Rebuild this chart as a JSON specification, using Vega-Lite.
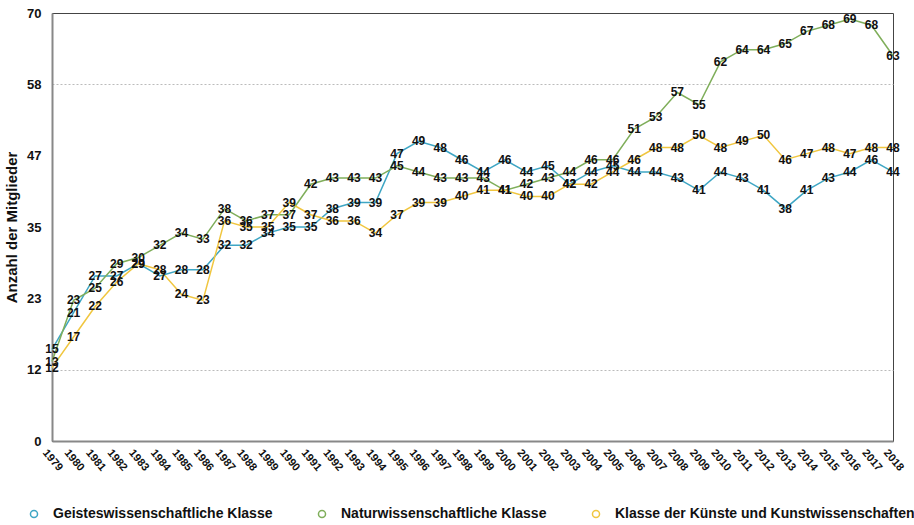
{
  "$schema": "https://vega.github.io/schema/vega-lite/v6.json",
  "width": 841,
  "height": 428,
  "autosize": {"type": "none"},
  "padding": {"left": 52, "top": 13, "right": 21, "bottom": 84},
  "config": {"font": "Liberation Sans", "view": {"stroke": "#444", "strokeWidth": 1}},
  "data": {"values": [
    {"Jahr": 1979, "G": 15, "N": 13, "K": 12},
    {"Jahr": 1980, "G": 21, "N": 23, "K": 17},
    {"Jahr": 1981, "G": 27, "N": 25, "K": 22},
    {"Jahr": 1982, "G": 27, "N": 29, "K": 26},
    {"Jahr": 1983, "G": 29, "N": 30, "K": 29},
    {"Jahr": 1984, "G": 27, "N": 32, "K": 28},
    {"Jahr": 1985, "G": 28, "N": 34, "K": 24},
    {"Jahr": 1986, "G": 28, "N": 33, "K": 23},
    {"Jahr": 1987, "G": 32, "N": 38, "K": 36},
    {"Jahr": 1988, "G": 32, "N": 36, "K": 35},
    {"Jahr": 1989, "G": 34, "N": 37, "K": 35},
    {"Jahr": 1990, "G": 35, "N": 37, "K": 39},
    {"Jahr": 1991, "G": 35, "N": 42, "K": 37},
    {"Jahr": 1992, "G": 38, "N": 43, "K": 36},
    {"Jahr": 1993, "G": 39, "N": 43, "K": 36},
    {"Jahr": 1994, "G": 39, "N": 43, "K": 34},
    {"Jahr": 1995, "G": 47, "N": 45, "K": 37},
    {"Jahr": 1996, "G": 49, "N": 44, "K": 39},
    {"Jahr": 1997, "G": 48, "N": 43, "K": 39},
    {"Jahr": 1998, "G": 46, "N": 43, "K": 40},
    {"Jahr": 1999, "G": 44, "N": 43, "K": 41},
    {"Jahr": 2000, "G": 46, "N": 41, "K": 41},
    {"Jahr": 2001, "G": 44, "N": 42, "K": 40},
    {"Jahr": 2002, "G": 45, "N": 43, "K": 40},
    {"Jahr": 2003, "G": 42, "N": 44, "K": 42},
    {"Jahr": 2004, "G": 44, "N": 46, "K": 42},
    {"Jahr": 2005, "G": 45, "N": 46, "K": 44},
    {"Jahr": 2006, "G": 44, "N": 51, "K": 46},
    {"Jahr": 2007, "G": 44, "N": 53, "K": 48},
    {"Jahr": 2008, "G": 43, "N": 57, "K": 48},
    {"Jahr": 2009, "G": 41, "N": 55, "K": 50},
    {"Jahr": 2010, "G": 44, "N": 62, "K": 48},
    {"Jahr": 2011, "G": 43, "N": 64, "K": 49},
    {"Jahr": 2012, "G": 41, "N": 64, "K": 50},
    {"Jahr": 2013, "G": 38, "N": 65, "K": 46},
    {"Jahr": 2014, "G": 41, "N": 67, "K": 47},
    {"Jahr": 2015, "G": 43, "N": 68, "K": 48},
    {"Jahr": 2016, "G": 44, "N": 69, "K": 47},
    {"Jahr": 2017, "G": 46, "N": 68, "K": 48},
    {"Jahr": 2018, "G": 44, "N": 63, "K": 48}
  ]},
  "transform": [
    {"fold": ["G", "N", "K"], "as": ["Key", "Anzahl"]},
    {"lookup": "Key", "from": {"data": {"values": [
      {"Key": "G", "Klasse": "Geisteswissenschaftliche Klasse"},
      {"Key": "N", "Klasse": "Naturwissenschaftliche Klasse"},
      {"Key": "K", "Klasse": "Klasse der Künste und Kunstwissenschaften"}
    ]}, "key": "Key", "fields": ["Klasse"]}}
  ],
  "encoding": {
    "x": {
      "field": "Jahr", "type": "ordinal",
      "scale": {"type": "point", "padding": 0},
      "axis": {
        "title": null, "labelAngle": 50, "labelAlign": "center", "labelBaseline": "middle",
        "labelPadding": 19, "ticks": false, "labelFontWeight": "bold", "labelFontSize": 11,
        "labelColor": "#111", "domainColor": "#888", "domainWidth": 2, "grid": false
      }
    },
    "y": {
      "field": "Anzahl", "type": "quantitative",
      "scale": {"domain": [0, 70], "nice": false},
      "axis": {
        "title": "Anzahl der Mitglieder", "titleFontSize": 15, "titleFontWeight": "bold",
        "titleColor": "#111", "titlePadding": 7,
        "values": [0, 11.6667, 23.3333, 35, 46.6667, 58.3333, 70],
        "labelExpr": "round(datum.value)",
        "labelFontSize": 13, "labelFontWeight": "bold", "labelColor": "#111", "labelPadding": 11,
        "ticks": false, "domainColor": "#888", "domainWidth": 2,
        "grid": true, "gridDash": [2, 2], "gridColor": "#bbb",
        "gridOpacity": {"condition": {"test": "(datum.value > 10 && datum.value < 13) || (datum.value > 57 && datum.value < 59)", "value": 1}, "value": 0}
      }
    },
    "color": {
      "field": "Klasse", "type": "nominal",
      "scale": {
        "domain": ["Geisteswissenschaftliche Klasse", "Naturwissenschaftliche Klasse", "Klasse der Künste und Kunstwissenschaften"],
        "range": ["#3ea6c4", "#7fae5a", "#f0c63f"]
      },
      "legend": {
        "title": null, "orient": "none", "legendX": -25, "legendY": 494, "direction": "horizontal",
        "symbolType": "circle", "symbolFillColor": "white", "symbolStrokeWidth": 1.5, "symbolSize": 50,
        "labelFontSize": 14, "labelFontWeight": "bold", "labelColor": "#111", "columnPadding": 42,
        "labelOffset": 12, "labelLimit": 500
      }
    }
  },
  "layer": [
    {"mark": {"type": "line", "strokeWidth": 1.5}},
    {
      "mark": {"type": "text", "fontWeight": "bold", "fontSize": 12},
      "encoding": {"text": {"field": "Anzahl", "type": "quantitative"}, "color": {"value": "#111"}}
    }
  ]
}
